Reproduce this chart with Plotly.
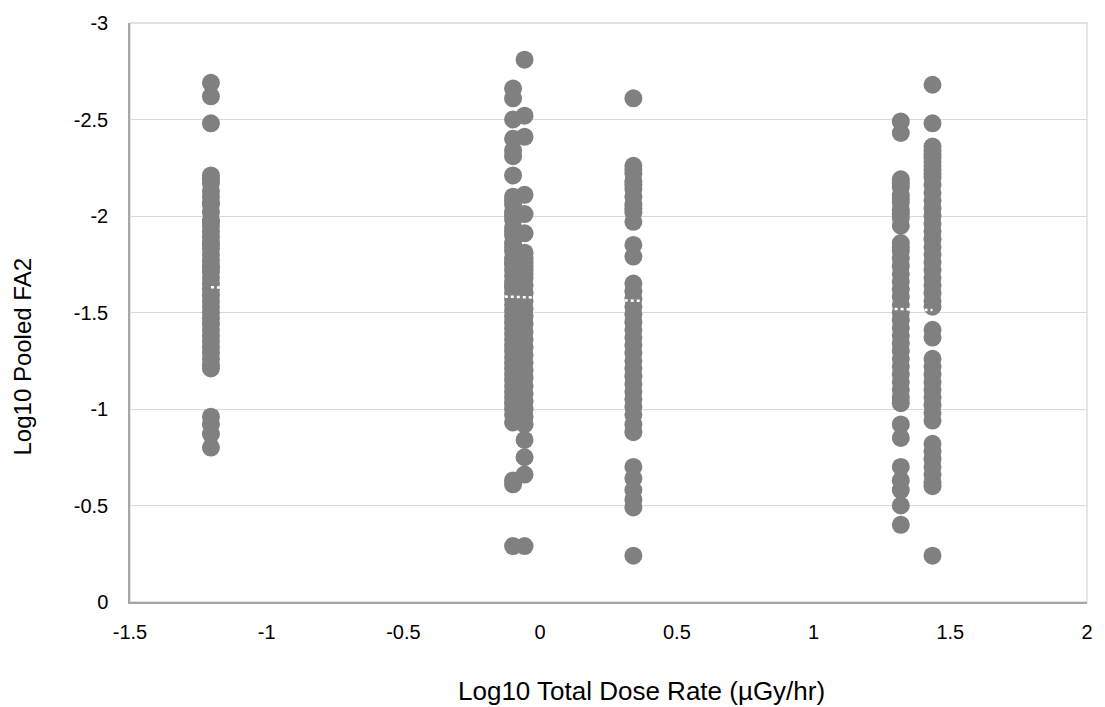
import numpy as np
import plotly.graph_objects as go

# Column x positions (Log10 Total Dose Rate)
x_a = -1.204
x_b = -0.099
x_c = -0.057
x_d = 0.341
x_e = 1.319
x_f = 1.435

# Log10 Pooled FA2 values for each column
y_a = [-2.69, -2.62, -2.48, -2.21, -2.19, -2.17, -2.13, -2.10, -2.07, -2.06, -2.02, -1.98,
       -1.97, -1.95, -1.92, -1.89, -1.86, -1.85, -1.83, -1.80, -1.77, -1.74, -1.73, -1.71,
       -1.68, -1.65, -1.62, -1.59, -1.56, -1.53, -1.50, -1.47, -1.44, -1.41, -1.38, -1.35,
       -1.32, -1.29, -1.26, -1.23, -1.21, -0.96, -0.92, -0.87, -0.80]
y_b = [-2.66, -2.61, -2.50, -2.40, -2.34, -2.31, -2.21, -2.10, -2.08, -2.06, -2.02, -2.00,
       -1.98, -1.94, -1.92, -1.90, -1.86, -1.84, -1.82, -1.78, -1.76, -1.75, -1.72, -1.69,
       -1.66, -1.64, -1.63, -1.60, -1.57, -1.54, -1.51, -1.48, -1.45, -1.42, -1.39, -1.36,
       -1.33, -1.30, -1.27, -1.24, -1.21, -1.18, -1.15, -1.12, -1.09, -1.06, -1.03, -1.00,
       -0.97, -0.93, -0.63, -0.61, -0.29]
y_c = [-2.81, -2.52, -2.41, -2.11, -2.01, -1.91, -1.81, -1.78, -1.76, -1.74, -1.72, -1.70,
       -1.68, -1.64, -1.60, -1.56, -1.52, -1.48, -1.44, -1.40, -1.36, -1.32, -1.28, -1.24,
       -1.20, -1.16, -1.12, -1.08, -1.04, -1.00, -0.96, -0.92, -0.84, -0.75, -0.66, -0.29]
y_d = [-2.61, -2.26, -2.24, -2.22, -2.18, -2.16, -2.14, -2.10, -2.06, -2.04, -2.02, -1.97,
       -1.85, -1.79, -1.65, -1.61, -1.57, -1.53, -1.49, -1.45, -1.41, -1.37, -1.33, -1.29,
       -1.25, -1.21, -1.17, -1.13, -1.09, -1.05, -1.01, -0.97, -0.92, -0.88, -0.70, -0.64,
       -0.58, -0.53, -0.49, -0.24]
y_e = [-2.49, -2.43, -2.19, -2.17, -2.15, -2.11, -2.09, -2.07, -2.03, -2.01, -1.99, -1.95,
       -1.86, -1.84, -1.82, -1.78, -1.74, -1.70, -1.66, -1.62, -1.58, -1.54, -1.50, -1.46,
       -1.42, -1.38, -1.34, -1.30, -1.26, -1.22, -1.18, -1.14, -1.10, -1.06, -1.03, -0.92,
       -0.85, -0.70, -0.63, -0.58, -0.50, -0.40]
y_f = [-2.68, -2.48, -2.36, -2.34, -2.32, -2.30, -2.28, -2.26, -2.24, -2.22, -2.20, -2.16,
       -2.12, -2.08, -2.04, -2.00, -1.96, -1.92, -1.88, -1.84, -1.80, -1.76, -1.72, -1.68,
       -1.64, -1.60, -1.56, -1.53, -1.41, -1.37, -1.26, -1.22, -1.18, -1.14, -1.10, -1.06,
       -1.02, -0.98, -0.94, -0.82, -0.78, -0.74, -0.70, -0.66, -0.62, -0.60, -0.24]

x_tickvals = [-1.5, -1, -0.5, 0, 0.5, 1, 1.5, 2]
x_ticktext = ["-1.5", "-1", "-0.5", "0", "0.5", "1", "1.5", "2"]
y_tickvals = [0, -0.5, -1, -1.5, -2, -2.5, -3]
y_ticktext = ["0", "-0.5", "-1", "-1.5", "-2", "-2.5", "-3"]

x_title = "Log10 Total Dose Rate (µGy/hr)"
y_title = "Log10 Pooled FA2"

cols = [(x_a, y_a), (x_b, y_b), (x_c, y_c), (x_d, y_d), (x_e, y_e), (x_f, y_f)]
xs = []
ys = []
for cx, cy in cols:
    xs += [cx] * len(cy)
    ys += list(cy)
xs = np.array(xs)
ys = np.array(ys)

# Linear trendline fitted to the data (as Excel does)
slope, intercept = np.polyfit(xs, ys, 1)
tx = np.array([xs.min(), xs.max()])
ty = slope * tx + intercept

FONT = "Liberation Sans, Arial, sans-serif"

fig = go.Figure()
fig.add_trace(go.Scatter(
    x=xs, y=ys, mode="markers",
    marker=dict(size=18, color="#808080", line=dict(width=0)),
    showlegend=False, hoverinfo="x+y"))
fig.add_trace(go.Scatter(
    x=tx, y=ty, mode="lines",
    line=dict(color="white", width=2.5, dash="dot"),
    showlegend=False, hoverinfo="skip"))

fig.update_layout(
    width=1105, height=707,
    margin=dict(l=130, r=12, t=20, b=105),
    paper_bgcolor="white", plot_bgcolor="white",
    font=dict(family=FONT, color="#000000", size=20),
    xaxis=dict(range=[-1.5, 2], tickvals=x_tickvals, ticktext=x_ticktext,
               showgrid=False, zeroline=False, showline=True, linecolor="#a6a6a6",
               linewidth=1.5, ticks="", ticklabelstandoff=11,
               tickfont=dict(family=FONT, size=20, color="#000000")),
    yaxis=dict(range=[0, -3], tickvals=y_tickvals, ticktext=y_ticktext,
               showgrid=True, gridcolor="#d9d9d9", gridwidth=1.3, zeroline=False,
               showline=True, linecolor="#a6a6a6", linewidth=1.5, ticks="",
               ticklabelstandoff=16,
               tickfont=dict(family=FONT, size=20, color="#000000")),
    shapes=[dict(type="rect", xref="paper", yref="paper", x0=0, x1=1, y0=0, y1=1,
                 line=dict(color="#d9d9d9", width=1.3), layer="below")],
    annotations=[
        dict(text=x_title, xref="paper", yref="paper", x=0.534, y=0, yshift=-89,
             showarrow=False, font=dict(family=FONT, size=26, color="#000000"),
             xanchor="center", yanchor="middle"),
        dict(text=y_title, xref="paper", yref="paper", x=0, xshift=-107, y=0.424,
             textangle=-90, showarrow=False,
             font=dict(family=FONT, size=24, color="#000000"),
             xanchor="center", yanchor="middle"),
    ],
)

fig.write_html("out.html")
